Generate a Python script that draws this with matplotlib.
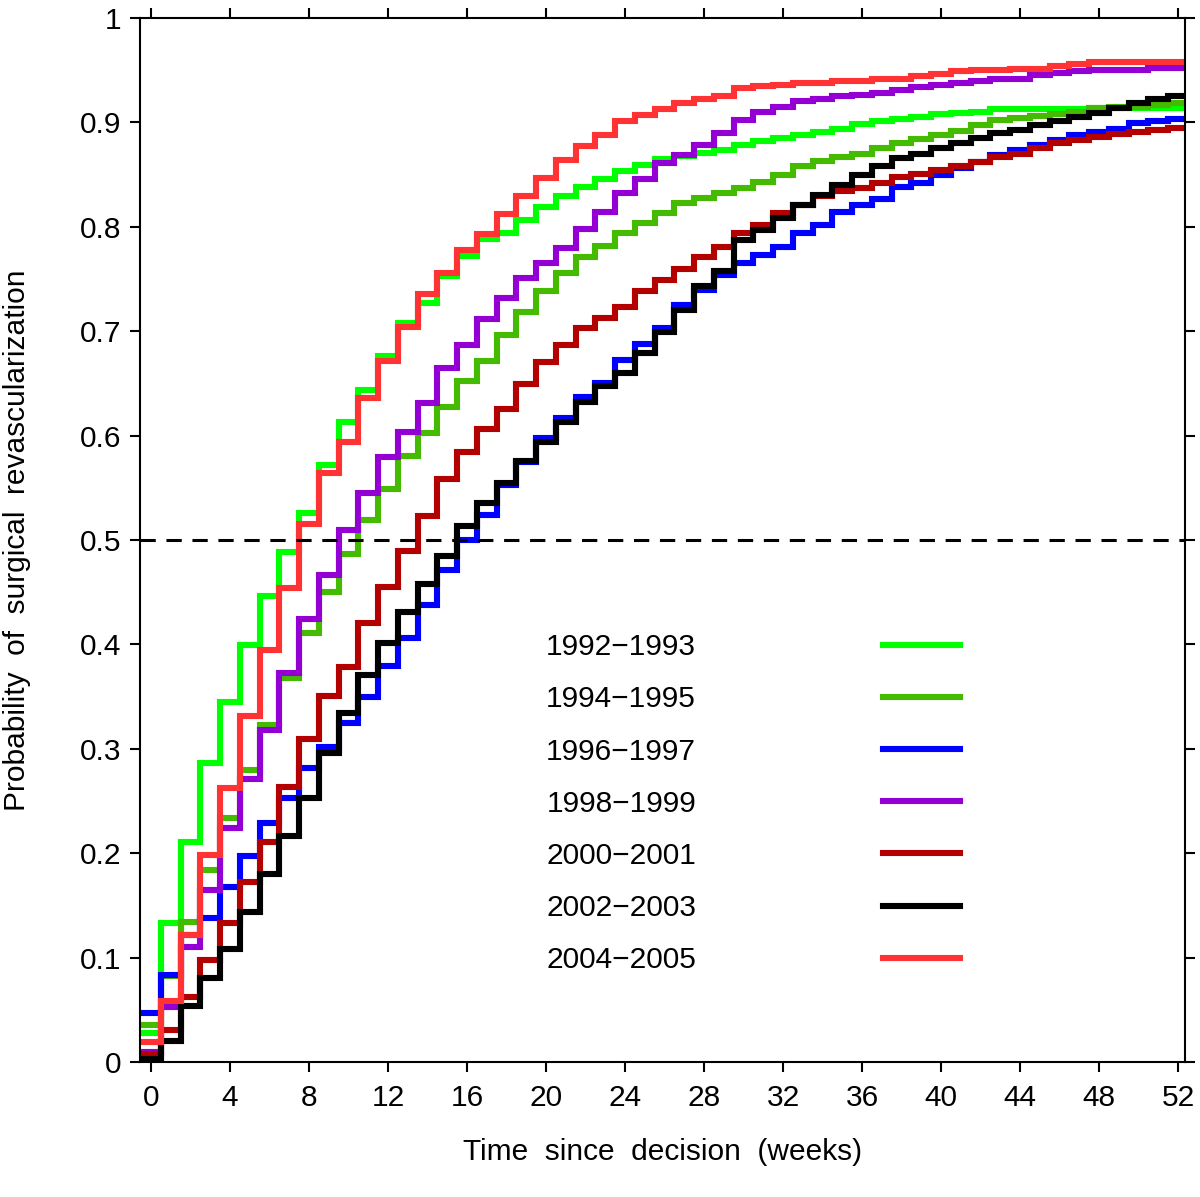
import numpy as np
import matplotlib
matplotlib.use("Agg")
import matplotlib.pyplot as plt

plt.rcParams['font.family'] = ['Liberation Sans', 'DejaVu Sans']

weeks = np.arange(0, 53)

labels = ["1992\u22121993", "1994\u22121995", "1996\u22121997", "1998\u22121999",
          "2000\u22122001", "2002\u22122003", "2004\u22122005"]
colors = ["#00FF00", "#44BB00", "#0000FF", "#9400D3", "#B30000", "#000000", "#FF3333"]

p_1992 = [0.028, 0.133, 0.211, 0.286, 0.345, 0.399, 0.446, 0.488, 0.526, 0.572,
          0.613, 0.644, 0.676, 0.708, 0.727, 0.753, 0.772, 0.788, 0.794, 0.806,
          0.819, 0.829, 0.838, 0.846, 0.853, 0.859, 0.865, 0.868, 0.871, 0.874,
          0.878, 0.882, 0.885, 0.888, 0.891, 0.894, 0.898, 0.901, 0.903, 0.905,
          0.908, 0.909, 0.910, 0.913, 0.913, 0.913, 0.913, 0.913, 0.914, 0.914,
          0.914, 0.914, 0.914]
p_1994 = [0.035, 0.082, 0.134, 0.184, 0.234, 0.280, 0.323, 0.368, 0.411, 0.450,
          0.487, 0.519, 0.549, 0.580, 0.602, 0.627, 0.652, 0.671, 0.696, 0.718,
          0.738, 0.756, 0.771, 0.782, 0.794, 0.804, 0.813, 0.823, 0.828, 0.832,
          0.837, 0.843, 0.850, 0.858, 0.863, 0.867, 0.870, 0.875, 0.880, 0.884,
          0.888, 0.892, 0.897, 0.902, 0.904, 0.906, 0.908, 0.910, 0.914, 0.915,
          0.915, 0.917, 0.919]
p_1996 = [0.047, 0.083, 0.122, 0.138, 0.168, 0.197, 0.229, 0.253, 0.282, 0.302,
          0.325, 0.350, 0.379, 0.406, 0.438, 0.471, 0.500, 0.524, 0.553, 0.575,
          0.598, 0.617, 0.637, 0.650, 0.672, 0.688, 0.703, 0.725, 0.739, 0.754,
          0.765, 0.773, 0.781, 0.794, 0.802, 0.814, 0.821, 0.827, 0.838, 0.842,
          0.850, 0.856, 0.862, 0.869, 0.874, 0.878, 0.883, 0.888, 0.891, 0.894,
          0.899, 0.901, 0.903]
p_1998 = [0.010, 0.053, 0.110, 0.165, 0.224, 0.271, 0.318, 0.373, 0.424, 0.466,
          0.510, 0.545, 0.579, 0.603, 0.631, 0.665, 0.687, 0.712, 0.732, 0.751,
          0.765, 0.780, 0.798, 0.814, 0.832, 0.846, 0.861, 0.869, 0.878, 0.890,
          0.902, 0.910, 0.915, 0.920, 0.922, 0.925, 0.926, 0.928, 0.931, 0.934,
          0.936, 0.938, 0.940, 0.942, 0.942, 0.945, 0.947, 0.949, 0.950, 0.950,
          0.950, 0.952, 0.952]
p_2000 = [0.008, 0.031, 0.062, 0.098, 0.133, 0.172, 0.211, 0.263, 0.309, 0.351,
          0.378, 0.420, 0.455, 0.489, 0.523, 0.558, 0.584, 0.606, 0.625, 0.649,
          0.670, 0.687, 0.703, 0.713, 0.723, 0.738, 0.749, 0.760, 0.771, 0.781,
          0.794, 0.802, 0.813, 0.821, 0.829, 0.834, 0.837, 0.842, 0.848, 0.851,
          0.854, 0.858, 0.862, 0.867, 0.870, 0.875, 0.880, 0.883, 0.886, 0.889,
          0.891, 0.893, 0.895]
p_2002 = [0.003, 0.020, 0.054, 0.080, 0.108, 0.144, 0.180, 0.216, 0.253, 0.296,
          0.334, 0.371, 0.401, 0.431, 0.458, 0.485, 0.513, 0.535, 0.555, 0.576,
          0.594, 0.613, 0.632, 0.647, 0.660, 0.679, 0.699, 0.720, 0.743, 0.758,
          0.787, 0.797, 0.808, 0.821, 0.830, 0.840, 0.850, 0.858, 0.866, 0.870,
          0.875, 0.880, 0.885, 0.890, 0.893, 0.897, 0.901, 0.905, 0.909, 0.914,
          0.919, 0.922, 0.925]
p_2004 = [0.019, 0.058, 0.122, 0.198, 0.262, 0.331, 0.395, 0.454, 0.515, 0.564,
          0.594, 0.636, 0.671, 0.704, 0.736, 0.756, 0.778, 0.793, 0.812, 0.829,
          0.847, 0.864, 0.877, 0.888, 0.901, 0.907, 0.913, 0.919, 0.922, 0.925,
          0.933, 0.935, 0.936, 0.938, 0.938, 0.940, 0.940, 0.942, 0.942, 0.944,
          0.946, 0.949, 0.950, 0.950, 0.951, 0.951, 0.954, 0.956, 0.958, 0.958,
          0.958, 0.958, 0.958]

series = [p_1992, p_1994, p_1996, p_1998, p_2000, p_2002, p_2004]

xticks = np.arange(0, 53, 4)
yticks = np.round(np.arange(0, 1.01, 0.1), 1)
yticklabels = ["0", "0.1", "0.2", "0.3", "0.4", "0.5", "0.6", "0.7", "0.8", "0.9", "1"]

FS = 21.5

fig = plt.figure(figsize=(12, 11.97), dpi=100)
ax = fig.add_axes([0.1167, 0.1128, 0.9875 - 0.1167, 0.985 - 0.1128])

edges = np.append(weeks - 0.5, weeks[-1] + 0.5)
for vals, col, lab in zip(series, colors, labels):
    ax.stairs(vals, edges, color=col, linewidth=4.4, baseline=None, label=lab)

ax.axhline(0.5, color="black", linewidth=2.2, linestyle=(0, (5, 3.5)))

ax.set_xlim(-0.55, 52.35)
ax.set_ylim(0, 1)
ax.set_xticks(xticks)
ax.set_xticklabels([str(t) for t in xticks])
ax.set_yticks(yticks)
ax.set_yticklabels(yticklabels)
ax.tick_params(axis="both", which="both", direction="out", length=7.5, width=1.5,
               labelsize=FS, top=True, right=True)
ax.tick_params(axis="x", pad=8)
ax.tick_params(axis="y", pad=6)
for s in ax.spines.values():
    s.set_linewidth(1.5)

ax.set_xlabel("Time  since  decision  (weeks)", fontsize=FS, labelpad=19)
ax.set_ylabel("Probability  of  surgical  revascularization", fontsize=FS, labelpad=35)

ax.legend(loc="upper left", bbox_to_anchor=(0.3885, 0.4107), frameon=False,
          markerfirst=False, fontsize=FS, handlelength=2.6, handletextpad=6.25,
          labelspacing=0.81, borderpad=0, borderaxespad=0)

fig.savefig("out.png", dpi=100)
